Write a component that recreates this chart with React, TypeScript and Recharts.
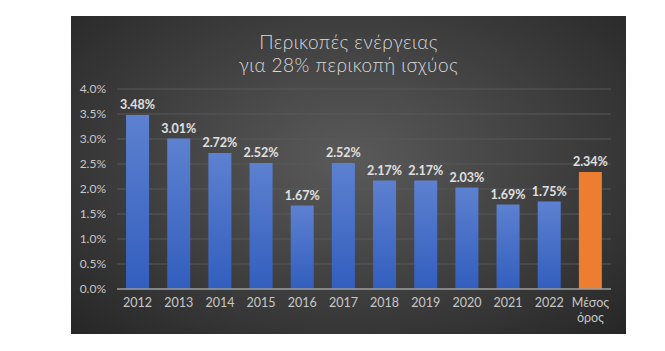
import React from "react";
import { BarChart, Bar, XAxis, YAxis, CartesianGrid, LabelList, Cell } from "recharts";

const categories = ["2012", "2013", "2014", "2015", "2016", "2017", "2018", "2019", "2020", "2021", "2022", "Μέσος όρος"];
const values = [3.48, 3.01, 2.72, 2.52, 1.67, 2.52, 2.17, 2.17, 2.03, 1.69, 1.75, 2.34];
const yTicks = [0, 0.5, 1, 1.5, 2, 2.5, 3, 3.5, 4];
const titleLines = ["Περικοπές ενέργειας", "για 28% περικοπή ισχύος"];

const data = categories.map((c, i) => ({ name: c, value: values[i] }));

const FONT = "'Lato', 'Open Sans', 'DejaVu Sans', sans-serif";

const XTick = (props: any) => {
  const { x, y, payload } = props;
  const lines = String(payload.value).split(" ");
  return (
    <text x={x} y={y} textAnchor="middle" fill="#c8c8c8" fontSize={12.5} fontFamily={FONT}>
      {lines.map((l: string, i: number) => (
        <tspan key={i} x={x} dy={i === 0 ? "0.75em" : "1.2em"}>
          {l}
        </tspan>
      ))}
    </text>
  );
};

export default function App() {
  return (
    <div style={{ position: "absolute", left: 0, top: 0, width: 665, height: 351, background: "#fff" }}>
      <div
        style={{
          position: "absolute",
          left: 71,
          top: 16,
          width: 555,
          height: 318,
          background: "radial-gradient(ellipse at 50% 45%, #5a5a5a 0%, #3e3e3e 55%, #262626 100%)",
        }}
      >
        <div
          style={{
            position: "absolute",
            left: 0,
            top: 14,
            width: 555,
            textAlign: "center",
            color: "#d9d9d9",
            fontFamily: FONT,
            fontWeight: 300,
            fontSize: 19,
            lineHeight: "23px",
            letterSpacing: 0.5,
          }}
        >
          {titleLines.map((t, i) => (
            <div key={i}>{t}</div>
          ))}
        </div>
        <BarChart
          width={555}
          height={318}
          data={data}
          margin={{ top: 73, right: 15, bottom: 0, left: 0 }}
          barCategoryGap="22%"
          style={{ position: "absolute", left: 0, top: 0 }}
        >
          <defs>
            <linearGradient id="blueGrad" x1="0" y1="0" x2="0" y2="1">
              <stop offset="0%" stopColor="#5d81d0" />
              <stop offset="100%" stopColor="#325ebe" />
            </linearGradient>
          </defs>
          <CartesianGrid vertical={false} stroke="#595959" strokeWidth={1} />
          <XAxis
            dataKey="name"
            interval={0}
            tickLine={false}
            axisLine={{ stroke: "#9a9a9a", strokeWidth: 1.5 }}
            tick={<XTick />}
            tickMargin={3}
            height={45}
          />
          <YAxis
            domain={[0, 4]}
            ticks={yTicks}
            width={46}
            tickLine={false}
            axisLine={false}
            tickMargin={5}
            tickFormatter={(v: number) => v.toFixed(1) + "%"}
            tick={{ fill: "#c8c8c8", fontSize: 12, fontFamily: FONT }}
          />
          <Bar dataKey="value" isAnimationActive={false}>
            {data.map((d, i) => (
              <Cell key={i} fill={i === data.length - 1 ? "#ed7d31" : "url(#blueGrad)"} />
            ))}
            <LabelList
              dataKey="value"
              position="top"
              offset={6}
              formatter={(v: number) => v.toFixed(2) + "%"}
              style={{ fill: "#e0e0e0", fontSize: 12.5, fontWeight: 700, fontFamily: FONT }}
            />
          </Bar>
        </BarChart>
      </div>
    </div>
  );
}
